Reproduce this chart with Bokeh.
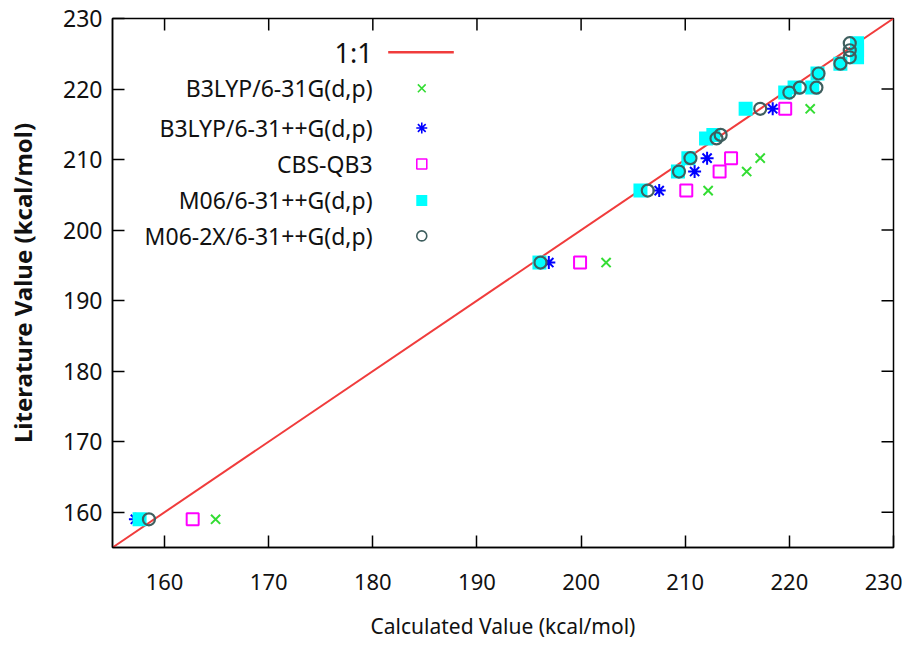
from bokeh.plotting import figure
from bokeh.models import Range1d, FixedTicker, Label
from bokeh.embed import file_html
from bokeh.resources import INLINE

# ---------------- data ----------------
axis_min, axis_max = 155, 230
ticks = [160, 170, 180, 190, 200, 210, 220, 230]

lit6 = [159.0, 195.4, 205.6, 208.3, 210.2, 217.2]
b3lyp_x = [164.9, 202.4, 212.2, 215.9, 217.2, 222.0]
b3lyp_pp_x = [157.2, 196.9, 207.5, 210.9, 212.1, 218.4]
cbs_x = [162.7, 199.9, 210.1, 213.3, 214.4, 219.6]

lit16 = [159.0, 195.4, 205.6, 208.3, 210.2, 213.0, 213.5, 217.2, 219.5,
         220.2, 220.2, 222.2, 223.6, 224.5, 225.5, 226.5]
m06_x = [157.6, 196.0, 205.7, 209.3, 210.3, 212.0, 212.7, 215.8, 219.6,
         220.5, 222.2, 222.7, 224.9, 226.5, 226.5, 226.5]
m062x_x = [158.5, 196.1, 206.4, 209.4, 210.5, 213.0, 213.4, 217.2, 220.0,
           221.0, 222.6, 222.8, 224.9, 225.8, 225.8, 225.8]

labels = ["B3LYP/6-31G(d,p)", "B3LYP/6-31++G(d,p)", "CBS-QB3",
          "M06/6-31++G(d,p)", "M06-2X/6-31++G(d,p)"]

# ---------------- styling ----------------
FONT = "Noto Sans"
GREEN, BLUE, MAGENTA, CYAN, GREY, RED = "#33dd33", "#0000ff", "#ff00ff", "#00ffff", "#3f5f5f", "#f03c3c"
W, H = 902, 644
BL, BR, BT, BB = 112, 9, 18, 97
FW, FH = W - BL - BR, H - BT - BB
TICK = 12

p = figure(width=W, height=H,
           x_range=Range1d(axis_min, axis_max), y_range=Range1d(axis_min, axis_max),
           output_backend="svg", toolbar_location=None,
           min_border_left=BL, min_border_right=BR, min_border_top=BT, min_border_bottom=BB)
p.xgrid.visible = False
p.ygrid.visible = False
p.outline_line_color = "black"
p.outline_line_width = 1.5

for ax in (p.xaxis[0], p.yaxis[0]):
    ax.ticker = FixedTicker(ticks=ticks)
    ax.major_tick_in = TICK
    ax.major_tick_out = 0
    ax.minor_tick_in = 0
    ax.minor_tick_out = 0
    ax.axis_line_color = "black"
    ax.axis_line_width = 1.5
    ax.major_tick_line_width = 1.5
    ax.major_label_text_font = FONT
    ax.major_label_text_color = "#111111"
    ax.axis_label_text_font = FONT
    ax.axis_label_text_color = "#111111"
    ax.axis_label_text_font_style = "normal"

p.xaxis[0].axis_label = "Calculated Value (kcal/mol)"
p.xaxis[0].major_label_text_font_size = "22px"
p.xaxis[0].major_label_standoff = 26
p.xaxis[0].axis_label_text_font_size = "21px"
p.xaxis[0].axis_label_standoff = 19

p.yaxis[0].axis_label = "Literature Value (kcal/mol)"
p.yaxis[0].major_label_text_font_size = "23px"
p.yaxis[0].major_label_standoff = 10
p.yaxis[0].axis_label_text_font_size = "24px"
p.yaxis[0].axis_label_text_font_style = "bold"
p.yaxis[0].axis_label_standoff = 21

# mirror ticks on top and right edges (gnuplot style)
span = axis_max - axis_min
inner = [t for t in ticks if axis_min < t < axis_max]
dy = TICK * span / FH
dx = TICK * span / FW
p.segment(x0=inner, y0=[axis_max] * len(inner), x1=inner, y1=[axis_max - dy] * len(inner),
          line_color="black", line_width=1.5)
p.segment(x0=[axis_max] * len(inner), y0=inner, x1=[axis_max - dx] * len(inner), y1=inner,
          line_color="black", line_width=1.5)

# 1:1 line
p.line([axis_min, axis_max], [axis_min, axis_max], line_color=RED, line_width=2)

# series
p.scatter(b3lyp_x, lit6, marker="x", size=13, line_color=GREEN, line_width=2)
p.scatter(b3lyp_pp_x, lit6, marker="asterisk", size=13, line_color=BLUE, line_width=2)
p.scatter(cbs_x, lit6, marker="square", size=12, fill_color=None, line_color=MAGENTA, line_width=2)
p.scatter(m06_x, lit16, marker="square", size=14, fill_color=CYAN, line_color=None)
p.scatter(m062x_x, lit16, marker="circle", size=12, fill_color=None, line_color=GREY, line_width=2.2)

# ---------------- custom legend (gnuplot style: text right, sample left) ----------------
leg_text_x = axis_min + 0.333 * span
leg_sample_x = axis_min + 0.396 * span
leg_line = [axis_min + 0.353 * span, axis_min + 0.437 * span]
leg_top = axis_min + 0.936 * span
leg_y = [axis_min + f * span for f in (0.868, 0.793, 0.725, 0.656, 0.589)]

p.line(leg_line, [leg_top, leg_top], line_color=RED, line_width=2.5)
p.add_layout(Label(x=leg_text_x, y=leg_top, text="1:1", text_align="right",
                   text_baseline="middle", text_font=FONT, text_font_size="27px",
                   text_color="#111111"))
styles = [dict(marker="x", size=11, line_color=GREEN, line_width=1.6),
          dict(marker="asterisk", size=11, line_color=BLUE, line_width=1.6),
          dict(marker="square", size=10, fill_color=None, line_color=MAGENTA, line_width=1.6),
          dict(marker="square", size=11, fill_color=CYAN, line_color=None),
          dict(marker="circle", size=10, fill_color=None, line_color=GREY, line_width=1.6)]
for lab, yy, st in zip(labels, leg_y, styles):
    p.add_layout(Label(x=leg_text_x, y=yy, text=lab, text_align="right",
                       text_baseline="middle", text_font=FONT, text_font_size="23px",
                       text_color="#111111"))
    p.scatter([leg_sample_x], [yy], **st)

open("out.html", "w").write(file_html(p, INLINE))
